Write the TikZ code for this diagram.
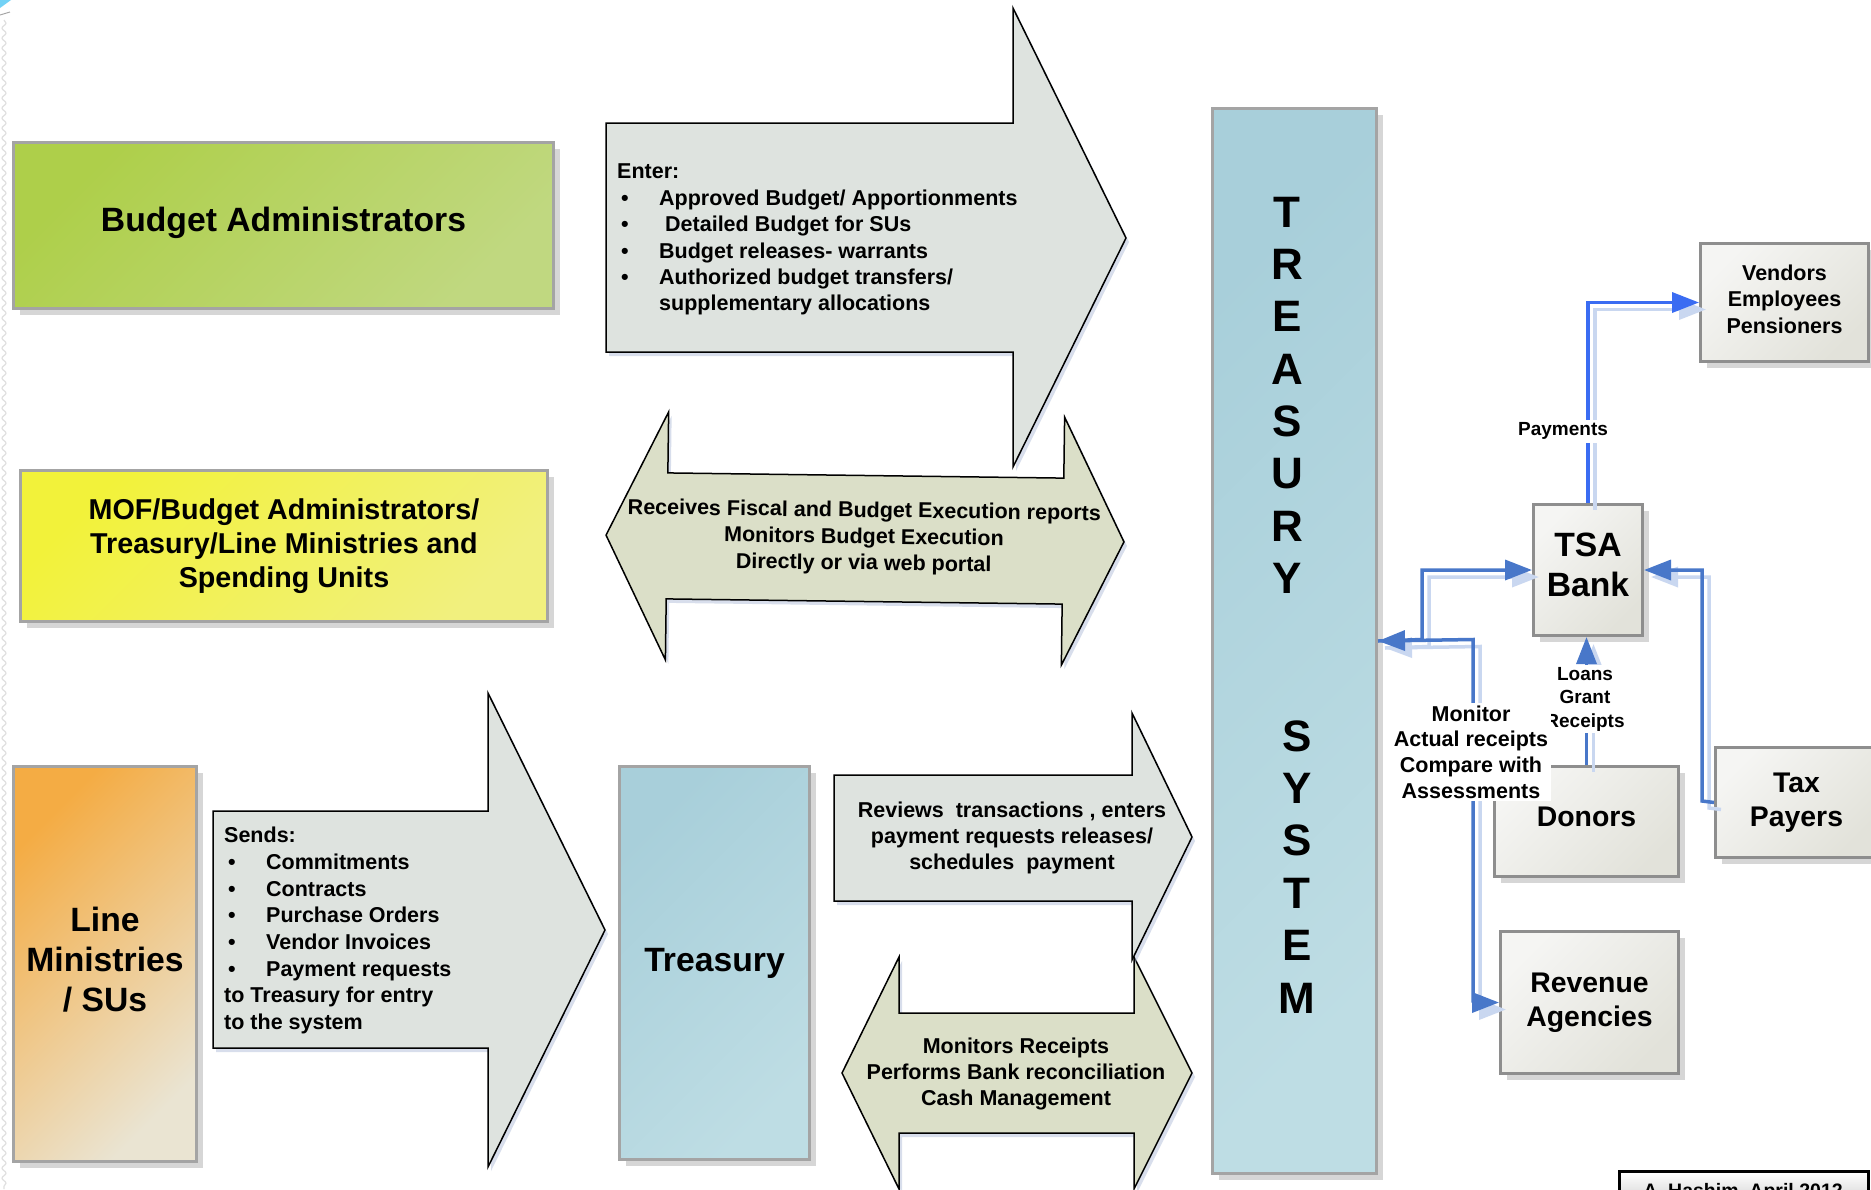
\documentclass[tikz,border=0pt]{standalone}
\usepackage{fontspec}
\setmainfont{Liberation Sans}
\usetikzlibrary{arrows.meta,shadows,decorations.pathmorphing}

\definecolor{boxgray}{HTML}{A4A4A4}
\definecolor{greenA}{HTML}{AECF4A}
\definecolor{greenB}{HTML}{C0D880}
\definecolor{yellowA}{HTML}{F2F23A}
\definecolor{yellowB}{HTML}{F1F07E}
\definecolor{orangeA}{HTML}{F4AC44}
\definecolor{orangeM}{HTML}{F1BC6C}
\definecolor{orangeB}{HTML}{EAE4D2}
\definecolor{blueA}{HTML}{A8CFDA}
\definecolor{blueB}{HTML}{BEDDE4}
\definecolor{paleA}{HTML}{F5F5F3}
\definecolor{paleB}{HTML}{E2E2DA}
\definecolor{panelgray}{HTML}{8E8E8E}
\definecolor{arrowfill}{HTML}{DEE3DF}
\definecolor{dblfill}{HTML}{DBDFC8}
\definecolor{linkblue}{HTML}{4877C9}
\definecolor{linkbright}{HTML}{3A6CF2}
\definecolor{linkpale}{HTML}{C9D7F0}
\definecolor{arrowshade}{HTML}{A9B8D6}

% bullet followed by the item indent
\newcommand\itm{\hspace*{4pt}\makebox[38pt][l]{\textbullet}}

\begin{document}
\begin{tikzpicture}[x=1pt, y=-1pt,
  boxshade/.style={drop shadow={shadow xshift=6pt, shadow yshift=-6pt, fill=black, opacity=0.16}},
  colbox/.style={rectangle, draw=boxgray, line width=3pt, anchor=north west,
    inner sep=0pt, align=center, boxshade},
  greenshade/.style={shading=axis, top color=greenA, bottom color=greenB, shading angle=45},
  yellowshade/.style={shading=axis, top color=yellowA, bottom color=yellowB, shading angle=45},
  orangeshade/.style={shading=axis, top color=orangeA, middle color=orangeM,
    bottom color=orangeB, shading angle=45},
  blueshade/.style={shading=axis, top color=blueA, bottom color=blueB, shading angle=45},
  panel/.style={rectangle, draw=panelgray, line width=3pt, anchor=north west,
    inner sep=0pt, align=center, shading=axis, top color=paleA, bottom color=paleB,
    shading angle=45, boxshade},
  blockarrow/.style={draw=black, line width=1.5pt, fill=arrowfill,
    drop shadow={shadow xshift=3pt, shadow yshift=-4pt, fill=arrowshade, opacity=0.45}},
  dblarrow/.style={blockarrow, fill=dblfill},
  txtbig/.style={font=\fontsize{33.7}{40}\selectfont\bfseries},
  txtmof/.style={font=\fontsize{28.7}{34}\selectfont\bfseries},
  txtmid/.style={font=\fontsize{28.4}{34.5}\selectfont\bfseries},
  txtsmall/.style={font=\fontsize{21.5}{26.4}\selectfont\bfseries},
  txttiny/.style={font=\fontsize{19}{23.5}\selectfont\bfseries},
  txtletter/.style={font=\fontsize{44}{50}\selectfont\bfseries, inner sep=0pt},
  tipshape/.style={-{Triangle[length=27pt,width=20pt]}},
  link/.style={line width=3.5pt, draw=linkblue, tipshape, color=linkblue},
  linkshade/.style={line width=3.5pt, draw=linkpale, tipshape, color=linkpale,
    transform canvas={shift={(7pt,-7pt)}}},
]
\useasboundingbox (0,0) rectangle (1871,1189);
\clip (0,0) rectangle (1871,1189);
\fill[white] (0,0) rectangle (1871,1189);

% slide edge decoration
\draw[black!12, line width=1.2pt, decorate,
  decoration={snake, segment length=10pt, amplitude=2pt}] (4,20) -- (4,1189);
\fill[cyan!55] (0,0) -- (11,0) -- (0,8) -- cycle;
\draw[gray!70, line width=1pt] (0,15) -- (10,12);

% ---------------- left column ----------------
\node[colbox, greenshade, txtbig, text depth=12pt, minimum width=540pt, minimum height=166pt]
  (budadm) at (12,141) {Budget Administrators};
\node[colbox, yellowshade, txtmof, minimum width=527pt, minimum height=151pt]
  (mof) at (19,469) {MOF/Budget Administrators/\\Treasury/Line Ministries and\\Spending Units};
\node[colbox, orangeshade, txtbig, text depth=10pt, minimum width=183pt, minimum height=395pt]
  (linemin) at (12,765) {Line\\Ministries\\/ SUs};
\node[colbox, blueshade, txtbig, minimum width=190pt, minimum height=393pt]
  (treas) at (618,765) {Treasury};

% ---------------- block arrows ----------------
% Enter
\draw[blockarrow] (606,123) -- (1013,123) -- (1013,8) -- (1126,238)
  -- (1013,467) -- (1013,352) -- (606,352) -- cycle;
\node[txtsmall, align=left, anchor=north west, inner sep=0pt] (entertxt) at (617,164)
  {Enter:\\
   \itm Approved Budget/ Apportionments\\
   \itm\hspace{6pt}Detailed Budget for SUs\\
   \itm Budget releases- warrants\\
   \itm Authorized budget transfers/\\
   \hspace*{42pt}supplementary allocations};

% Receives (two-headed, slightly tilted)
\begin{scope}[shift={(865,538.5)}, rotate=-0.75]
  \draw[dblarrow] (-259,0) -- (-198,-124) -- (-198,-63) -- (198,-63) -- (198,-124)
    -- (259,0) -- (198,124) -- (198,63) -- (-198,63) -- (-198,124) -- cycle;
\end{scope}
\node[txtsmall, align=center, rotate=-0.75] (recvtxt) at (864,538)
  {Receives Fiscal and Budget Execution reports\\Monitors Budget Execution\\Directly or via web portal};

% Sends
\draw[blockarrow] (213,811) -- (488,811) -- (488,693) -- (605,930)
  -- (488,1167) -- (488,1048) -- (213,1048) -- cycle;
\node[txtsmall, align=left, anchor=north west, inner sep=0pt,
  font=\fontsize{21.5}{26.7}\selectfont\bfseries] (sendtxt) at (224,827)
  {Sends:\\
   \itm Commitments\\
   \itm Contracts\\
   \itm Purchase Orders\\
   \itm Vendor Invoices\\
   \itm Payment requests\\
   to Treasury for entry\\
   to the system};

% Monitors receipts (two-headed)
\draw[dblarrow] (842,1073) -- (899,957) -- (899,1013) -- (1134,1013) -- (1134,957)
  -- (1192,1073) -- (1134,1189) -- (1134,1133) -- (899,1133) -- (899,1189) -- cycle;
\node[txtsmall, align=center] (mrtxt) at (1016,1074)
  {Monitors Receipts\\Performs Bank reconciliation\\Cash Management};

% Reviews
\draw[blockarrow] (834,775) -- (1132,775) -- (1132,713) -- (1192,837)
  -- (1132,960) -- (1132,901) -- (834,901) -- cycle;
\node[txtsmall, align=center] (revtxt) at (1012,838)
  {Reviews\ \ transactions , enters\\payment requests releases/\\schedules\ \ payment};

% ---------------- treasury system ----------------
\node[colbox, blueshade, minimum width=164pt, minimum height=1065pt] (tsys) at (1211,107) {};
\foreach \c [count=\i from 0] in {T,R,E,A,S,U,R,Y}
  \node[txtletter] (tsysA\i) at (1287,{212+52.4*\i}) {\c};
\foreach \c [count=\i from 0] in {S,Y,S,T,E,M}
  \node[txtletter] (tsysB\i) at (1297,{736+52.4*\i}) {\c};

% ---------------- right side ----------------
\node[panel, txtsmall, text depth=7pt, minimum width=168pt, minimum height=118pt]
  (vendors) at (1699,242) {Vendors\\Employees\\Pensioners};
\node[panel, txtbig, text depth=10pt, minimum width=109pt, minimum height=131pt]
  (tsa) at (1532,503) {TSA\\Bank};
\node[panel, txtmid, text depth=10pt, minimum width=184pt, minimum height=110pt]
  (donors) at (1493,765) {Donors};
\node[panel, txtmid, minimum width=162pt, minimum height=110pt]
  (taxp) at (1714,746) {Tax\\Payers};
\node[panel, txtmid, minimum width=178pt, minimum height=142pt]
  (revenue) at (1499,930) {Revenue\\Agencies};

\coordinate (jA) at (1422,639.5);
\coordinate (jR) at (1473,639.5);
\coordinate (jT) at (1702,801);

% connector shadows
\draw[linkshade] (tsa.north) |- (vendors.west);
\draw[linkshade] (tsys.east) -- (jA) |- (tsa.west);
\draw[linkshade] (taxp.west) -- (jT) |- (tsa.east);
\draw[linkshade] (donors.north) -- (donors.north |- tsa.south);
\draw[linkshade, {Triangle[length=27pt,width=20pt]}-{Triangle[length=27pt,width=20pt]}]
  (tsys.east) -- (jR) |- (revenue.west);

% connectors
\draw[link, draw=linkbright, color=linkbright] (tsa.north) |- (vendors.west);
\draw[link] (tsys.east) -- (jA) |- (tsa.west);
\draw[link] (taxp.west) -- (jT) |- (tsa.east);
\draw[link] (donors.north) -- (donors.north |- tsa.south);
\draw[link, {Triangle[length=27pt,width=20pt]}-{Triangle[length=27pt,width=20pt]}]
  (tsys.east) -- (jR) |- (revenue.west);

% connector labels
\node[txttiny, fill=white, inner sep=3pt] (paylbl) at (1563,431) {Payments};
\node[txttiny, align=center, fill=white, inner sep=2pt] (loanslbl) at (1585,699)
  {Loans\\Grant\\Receipts};
\node[align=center, fill=white, inner sep=3pt,
  font=\fontsize{21.5}{25.7}\selectfont\bfseries] (monlbl) at (1471,752)
  {Monitor\\Actual receipts\\Compare with\\Assessments};

% ---------------- credit ----------------
\node[rectangle, draw=black, line width=3pt, top color=white, bottom color=gray!55,
  anchor=north west, minimum width=249pt, minimum height=50pt, inner sep=0pt]
  (credit) at (1618,1170) {};
\node[font=\fontsize{19.5}{23}\selectfont\bfseries, anchor=base]
  (credittxt) at (1743,1197) {A. Hashim, April 2012};
\end{tikzpicture}
\end{document}
